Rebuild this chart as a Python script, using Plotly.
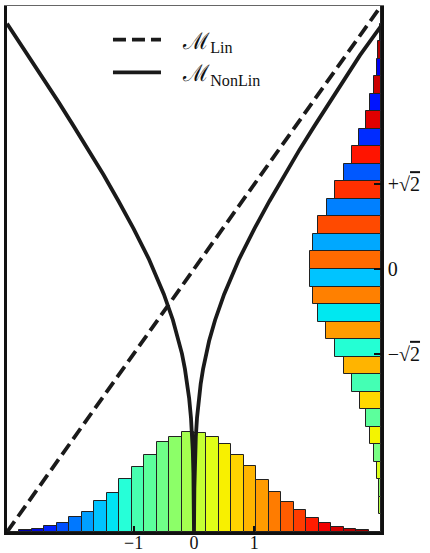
import numpy as np
import plotly.graph_objects as go

# ---------------- data ----------------
X_RANGE = [-3.1, 3.1]
Y_RANGE = [-4.384, 4.384]

# bottom histogram: 30 equal bins spanning the x range (density)
x_bin_edges = np.linspace(X_RANGE[0], X_RANGE[1], 31)
x_density = [0.000, 0.007, 0.013, 0.024, 0.036, 0.058, 0.080, 0.121, 0.155, 0.209,
             0.257, 0.304, 0.356, 0.375, 0.395, 0.391, 0.375, 0.348, 0.304, 0.261,
             0.207, 0.158, 0.119, 0.087, 0.057, 0.036, 0.021, 0.013, 0.007, 0.001]

# right histogram: 30 equal bins spanning the y range (density), bottom -> top
y_bin_edges = np.linspace(Y_RANGE[0], Y_RANGE[1], 31)
y_density = [0.000, 0.007, 0.009, 0.016, 0.028, 0.042, 0.060, 0.081, 0.113, 0.148,
             0.180, 0.218, 0.249, 0.270, 0.280, 0.280, 0.267, 0.247, 0.215, 0.180,
             0.148, 0.115, 0.085, 0.058, 0.042, 0.028, 0.015, 0.011, 0.004, 0.000]

# linear model
lin_x = [-3.1, 3.1]
lin_y = [-4.384, 4.384]

# nonlinear model
nl_x = [-3.1, -2.75, -2.5, -2.25, -2.0, -1.75, -1.5, -1.25, -1.0, -0.75, -0.5, -0.35,
        -0.25, -0.2, -0.15, -0.11, -0.08, -0.05, -0.03, -0.02, -0.01, -0.006, -0.003,
        -0.0015, 0.0,
        0.0015, 0.003, 0.006, 0.01, 0.02, 0.03, 0.05, 0.08, 0.11, 0.15, 0.2, 0.25,
        0.35, 0.5, 0.75, 1.0, 1.25, 1.5, 1.75, 2.0, 2.25, 2.5, 2.75, 3.1]
nl_y = [4.09, 3.56, 3.17, 2.79, 2.39, 1.99, 1.57, 1.13, 0.67, 0.17, -0.42, -0.85,
        -1.20, -1.41, -1.67, -1.92, -2.16, -2.48, -2.80, -3.03, -3.41, -3.66, -3.99,
        -4.29, -4.384,
        -4.29, -3.99, -3.66, -3.41, -3.03, -2.80, -2.48, -2.16, -1.92, -1.67, -1.41, -1.20,
        -0.85, -0.42, 0.17, 0.67, 1.13, 1.57, 1.99, 2.39, 2.79, 3.17, 3.56, 4.05]

x_tick_vals = [-1, 0, 1]
x_tick_text = ["\u22121", "0", "1"]
y_tick_vals = [-np.sqrt(2), 0, np.sqrt(2)]
OVER2 = '\u221a<span style="text-decoration:overline">2</span>'
y_tick_text = ["\u2212" + OVER2, "0", "+" + OVER2]

# ---------------- styles ----------------
x_bar_colors = ["#000080", "#0000a8", "#0008e0", "#0022ff", "#0050ff", "#0078ff",
                "#00a0ff", "#00c4ff", "#00e4f4", "#26ffd8", "#48ffb0", "#5cff9c",
                "#70ff88", "#8cff68", "#a4ff50", "#c4ff34", "#e0ff18", "#f8f000",
                "#ffd400", "#ffb400", "#ff9c00", "#ff7c00", "#ff5c00", "#ff3c00",
                "#ff1c00", "#f00000", "#d40000", "#b80000", "#9c0000", "#800000"]
y_bar_colors_top_down = ["#000080", "#000096", "#b00000", "#0000f0", "#cc0000", "#0014ff",
                         "#e00000", "#002cff", "#ff1400", "#0058ff", "#ff3000", "#0080ff",
                         "#ff4a00", "#00a8ff", "#ff6a00", "#00c4ff", "#ff8000", "#00e8f0",
                         "#ff9c00", "#24ffd4", "#ffb400", "#44ffb4", "#ffd800", "#5cff9c",
                         "#f4f400", "#78ff84", "#dcff1c", "#90ff68", "#b4ff44", "#b4ff44"]
y_bar_colors = y_bar_colors_top_down[::-1]

INK = "#1a1a1a"
SERIF = "Liberation Serif, DejaVu Serif, serif"
PAD = "\u00a0\u00a0\u00a0"

x_centers = (0.5 * (x_bin_edges[:-1] + x_bin_edges[1:])).tolist()
y_centers = (0.5 * (y_bin_edges[:-1] + y_bin_edges[1:])).tolist()
x_w = float(x_bin_edges[1] - x_bin_edges[0])
y_w = float(y_bin_edges[1] - y_bin_edges[0])

fig = go.Figure()

fig.add_trace(go.Bar(
    x=x_centers, y=x_density, width=x_w, xaxis="x", yaxis="y2",
    marker=dict(color=x_bar_colors, line=dict(color="#222222", width=1)),
    showlegend=False, hoverinfo="skip"))

fig.add_trace(go.Bar(
    y=y_centers, x=y_density, width=y_w, orientation="h", xaxis="x2", yaxis="y",
    marker=dict(color=y_bar_colors, line=dict(color="#222222", width=1)),
    showlegend=False, hoverinfo="skip"))

fig.add_trace(go.Scatter(
    x=lin_x, y=lin_y, mode="lines", xaxis="x3", yaxis="y3",
    line=dict(color=INK, width=3.8, dash="13px,6px"),
    name=PAD + "\u2133<sub>Lin</sub>"))

fig.add_trace(go.Scatter(
    x=nl_x, y=nl_y, mode="lines", xaxis="x3", yaxis="y3",
    line=dict(color=INK, width=3.8),
    name=PAD + "\u2133<sub>NonLin</sub>"))

fig.update_layout(
    width=430, height=553,
    margin=dict(l=7, r=49, t=6, b=21),
    paper_bgcolor="white", plot_bgcolor="rgba(0,0,0,0)",
    bargap=0, barmode="overlay",
    font=dict(family=SERIF, size=20, color="#111111"),
    xaxis=dict(range=X_RANGE, tickvals=x_tick_vals, ticktext=x_tick_text,
               tickfont=dict(size=18),
               ticks="inside", ticklen=6, tickwidth=1.5, tickcolor="#111111",
               ticklabelstandoff=-7, automargin=False,
               showgrid=False, zeroline=False, showline=True, linecolor="#111111",
               linewidth=2.5, anchor="y", fixedrange=True),
    yaxis=dict(range=Y_RANGE, side="right", tickvals=y_tick_vals, ticktext=y_tick_text,
               ticks="inside", ticklen=7, tickwidth=1.5, tickcolor="#111111",
               automargin=False,
               showgrid=False, zeroline=False, showline=True, mirror=True,
               linecolor="#111111", linewidth=2.5, anchor="x", fixedrange=True),
    xaxis2=dict(range=[1.476, 0], overlaying="x", side="top", anchor="y",
                automargin=False, showticklabels=False, ticks="", showgrid=False,
                zeroline=False, showline=True, linecolor="#666666", linewidth=1),
    yaxis2=dict(range=[0, 2.078], overlaying="y", anchor="x", showticklabels=False,
                automargin=False, ticks="", showgrid=False, zeroline=False, showline=False),
    xaxis3=dict(range=X_RANGE, overlaying="x", anchor="y3", showticklabels=False,
                automargin=False, ticks="", showgrid=False, zeroline=False, showline=False),
    yaxis3=dict(range=Y_RANGE, overlaying="y", anchor="x3", showticklabels=False,
                automargin=False, ticks="", showgrid=False, zeroline=False, showline=False),
    legend=dict(x=0.27, y=0.977, xanchor="left", yanchor="top",
                bgcolor="rgba(0,0,0,0)", font=dict(family=SERIF, size=23),
                itemwidth=48, tracegroupgap=0),
)

fig.write_html("out.html", config={"displayModeBar": False},
               post_script="document.body.style.margin='0px';")
